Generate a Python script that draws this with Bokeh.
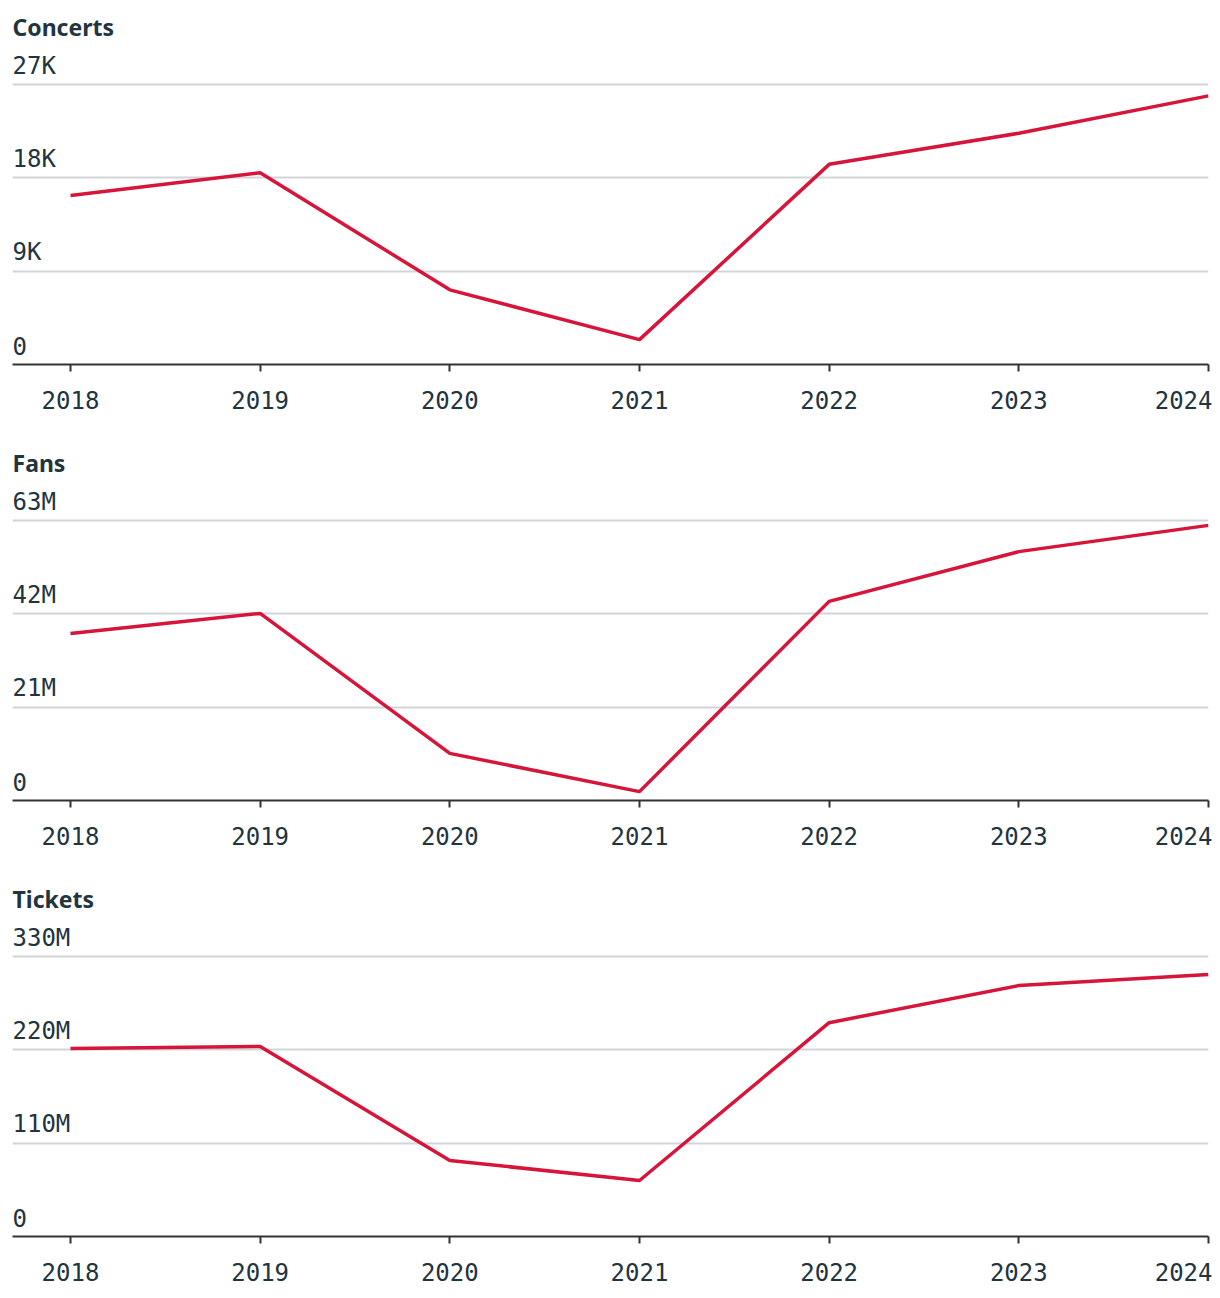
from bokeh.plotting import figure
from bokeh.layouts import column
from bokeh.models import FixedTicker, Range1d, ColumnDataSource
from bokeh.core.properties import value
from bokeh.embed import file_html
from bokeh.resources import INLINE

years = [2018, 2019, 2020, 2021, 2022, 2023, 2024]
year_labels = ["2018", "2019", "2020", "2021", "2022", "2023", "2024"]

concerts = [16300, 18500, 7200, 2400, 19300, 22300, 25900]
concerts_ticks = [0, 9000, 18000, 27000]
concerts_labels = ["0", "9K", "18K", "27K"]

fans = [37.6e6, 42.1e6, 10.6e6, 2.0e6, 44.8e6, 56.0e6, 61.9e6]
fans_ticks = [0, 21e6, 42e6, 63e6]
fans_labels = ["0", "21M", "42M", "63M"]

tickets = [221.6e6, 224.0e6, 89.6e6, 66.0e6, 252.0e6, 295.8e6, 308.8e6]
tickets_ticks = [0, 110e6, 220e6, 330e6]
tickets_labels = ["0", "110M", "220M", "330M"]

LINE = "#d7153a"
TEXT = "#22343e"
GRID = "#d1d5d9"
AXIS = "#333333"
MONO = "DejaVu Sans Mono"


def panel(title, vals, ticks, labels, height, bottom):
    x0 = 2018 - 58 / 189.667
    p = figure(width=1212, height=height,
               x_range=Range1d(x0, 2024),
               y_range=Range1d(0, ticks[-1] * 314 / 280),
               output_backend="svg", toolbar_location=None,
               y_axis_location=None,
               min_border_left=12, min_border_right=4,
               min_border_top=50, min_border_bottom=bottom)
    p.outline_line_color = None
    p.background_fill_color = "white"
    p.border_fill_color = "white"
    p.xgrid.visible = False
    p.ygrid.ticker = FixedTicker(ticks=ticks)
    p.ygrid.grid_line_color = GRID
    p.ygrid.grid_line_width = 2

    ax = p.xaxis[0]
    ax.ticker = FixedTicker(ticks=years)
    ax.major_label_overrides = {y: l for y, l in zip(years, year_labels)}
    ax.axis_line_color = AXIS
    ax.axis_line_width = 2
    ax.major_tick_line_color = AXIS
    ax.major_tick_line_width = 2
    ax.major_tick_in = 0
    ax.major_tick_out = 7
    ax.minor_tick_line_color = None
    ax.major_label_text_font = MONO
    ax.major_label_text_font_size = "24px"
    ax.major_label_text_color = TEXT
    ax.major_label_standoff = 19

    p.title.text = title
    p.title.text_font = "Noto Sans"
    p.title.text_font_style = "bold"
    p.title.text_font_size = "23px"
    p.title.text_color = TEXT
    p.title.align = "left"
    p.title.standoff = 15

    src = ColumnDataSource(dict(x=[x0] * len(ticks), y=ticks, t=labels))
    p.text(x="x", y="y", text="t", source=src, text_font=value(MONO),
           text_font_size="24px", text_color=TEXT, text_align="left",
           text_baseline="alphabetic", y_offset=-19)

    p.line(years, vals, line_color=LINE, line_width=3.5)
    return p


p1 = panel("Concerts", concerts, concerts_ticks, concerts_labels, 436, 72)
p2 = panel("Fans", fans, fans_ticks, fans_labels, 436, 72)
p3 = panel("Tickets", tickets, tickets_ticks, tickets_labels, 420, 56)

layout = column(p1, p2, p3, spacing=0)
open("out.html", "w").write(file_html(layout, INLINE))
